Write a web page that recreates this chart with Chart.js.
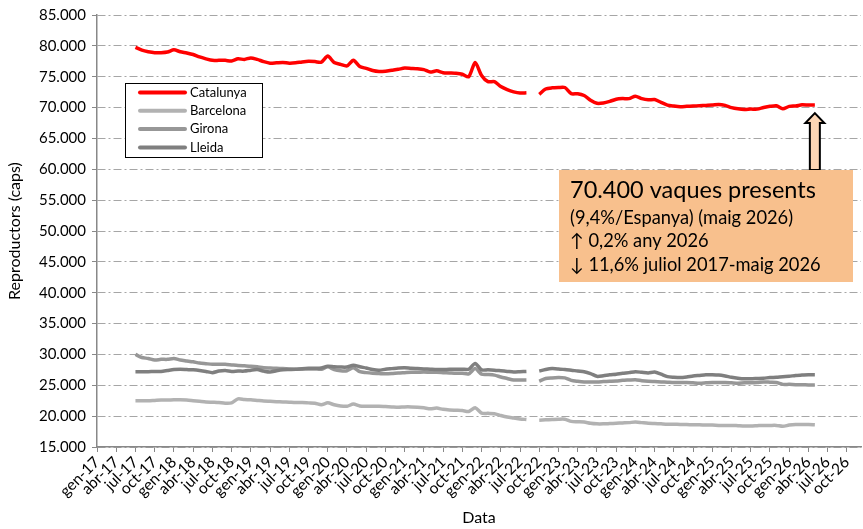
<!DOCTYPE html>
<html>
<head>
<meta charset="utf-8">
<script src="https://cdn.jsdelivr.net/npm/chart.js@4"></script>
<style>
  html, body { margin: 0; padding: 0; background: #fff; }
  #wrap { width: 863px; height: 529px; }
</style>
</head>
<body>
<div id="wrap"><canvas id="vaquesChart"></canvas></div>
<script>
// month index: 0 = gen-17; the series start in jul-17 (index 6), monthly up to maig-26
const firstMonth = 6;
const quarterNames = ["gen", "abr", "jul", "oct"];
const tickYears = ["17", "18", "19", "20", "21", "22", "23", "24", "25", "26"];

const catalunya = [
  79750, 79300, 79050, 78900, 78900, 79000, 79350, 79050, 78850, 78600,
  78200, 77900, 77650, 77650, 77650, 77550, 77900, 77800, 78050, 77800,
  77450, 77200, 77250, 77300, 77200, 77250, 77400, 77500, 77450, 77350,
  78350, 77300, 77000, 76750, 77650, 76650, 76350, 76000, 75850, 75900,
  76050, 76200, 76400, 76350, 76300, 76150, 75750, 75950, 75650, 75600,
  75550, 75400, 75000, 77300, 75200, 74200, 74200, 73400, 72900, 72550,
  72350, 72400, null, 72150, 73000, 73200, 73250, 73250, 72250, 72250,
  71950, 71200, 70700, 70750, 71000, 71350, 71450, 71450, 71850, 71450,
  71250, 71300, 70850, 70400, 70250, 70150, 70200, 70250, 70300, 70350,
  70400, 70500, 70350, 70000, 69800, 69700, 69750, 69750, 70000, 70200,
  70300, 69800, 70200, 70250, 70450, 70400, 70400
];
const barcelona = [
  22500, 22500, 22500, 22550, 22600, 22600, 22650, 22650, 22600, 22500,
  22400, 22300, 22250, 22200, 22100, 22150, 22800, 22700, 22650, 22550,
  22450, 22400, 22350, 22300, 22250, 22200, 22200, 22150, 22100, 21850,
  22150, 21850, 21650, 21600, 21950, 21650, 21600, 21600, 21600, 21550,
  21500, 21450, 21500, 21500, 21450, 21350, 21200, 21300, 21100, 21000,
  20950, 20900, 20750, 21350, 20500, 20450, 20400, 20100, 19850, 19700,
  19550, 19450, null, 19350, 19400, 19450, 19500, 19500, 19150, 19100,
  19050, 18850, 18750, 18750, 18800, 18850, 18900, 18950, 19050, 18950,
  18850, 18800, 18750, 18700, 18700, 18650, 18650, 18600, 18600, 18550,
  18550, 18500, 18500, 18500, 18450, 18400, 18400, 18450, 18500, 18500,
  18500, 18350, 18550, 18650, 18650, 18650, 18600
];
const girona = [
  30000, 29500, 29350, 29100, 29200, 29200, 29350, 29100, 28950, 28800,
  28600, 28500, 28400, 28400, 28400, 28300, 28200, 28150, 28100, 28000,
  27850, 27800, 27750, 27700, 27650, 27600, 27600, 27650, 27650, 27600,
  28000, 27550, 27350, 27350, 27850, 27200, 27050, 26950, 26900, 26850,
  26900, 27000, 27050, 27100, 27100, 27150, 27100, 27100, 27050, 27000,
  26950, 26950, 26850, 27700, 26800, 26750, 26650, 26350, 26100, 25850,
  25850, 25850, null, 25650, 26100, 26200, 26250, 26200, 25800, 25650,
  25550, 25550, 25550, 25600, 25650, 25700, 25800, 25850, 25900, 25750,
  25650, 25600, 25550, 25500, 25450, 25450, 25450, 25400, 25350, 25400,
  25450, 25450, 25450, 25400, 25350, 25400, 25400, 25450, 25550, 25500,
  25450, 25150, 25150, 25100, 25100, 25050, 25050
];
const lleida = [
  27200, 27200, 27200, 27250, 27250, 27400, 27550, 27600, 27550, 27500,
  27400, 27250, 27050, 27300, 27400, 27250, 27300, 27300, 27450, 27550,
  27300, 27150, 27350, 27500, 27550, 27600, 27700, 27750, 27750, 27800,
  28100, 28000, 27950, 27950, 28250, 28000, 27800, 27550, 27450, 27600,
  27700, 27800, 27850, 27750, 27700, 27650, 27600, 27550, 27550, 27600,
  27600, 27600, 27600, 28550, 27500, 27500, 27450, 27350, 27250, 27150,
  27200, 27250, null, 27300, 27550, 27700, 27650, 27550, 27450, 27300,
  27200, 26900, 26450, 26550, 26700, 26800, 26950, 27050, 27200, 27100,
  27000, 27150, 26800, 26400, 26300, 26250, 26350, 26500, 26600, 26700,
  26700, 26650, 26500, 26300, 26150, 26050, 26050, 26100, 26150, 26250,
  26300, 26400, 26450, 26600, 26650, 26700, 26700
];

const noteLines = [
  "70.400 vaques presents",
  "(9,4%/Espanya) (maig 2026)",
  "\u2191 0,2% any 2026",
  "\u2193 11,6% juliol 2017-maig 2026"
];

Chart.defaults.font.family = "Lato, 'Open Sans', sans-serif";
Chart.defaults.color = "#000";

function toPoints(values) {
  return values.map((v, i) => ({ x: firstMonth + i, y: v }));
}

function fmtThousands(v) {
  return String(v).replace(/\B(?=(\d{3})+(?!\d))/g, ".");
}

// legend drawn as a framed box inside the plot, like the original
const boxLegend = {
  id: "boxLegend",
  afterDatasetsDraw(chart) {
    const ctx = chart.ctx;
    const x = 125, y = 83, w = 137, h = 74;
    ctx.save();
    ctx.fillStyle = "#fff";
    ctx.fillRect(x, y, w, h);
    ctx.strokeStyle = "#000";
    ctx.lineWidth = 1;
    ctx.strokeRect(x + 0.5, y + 0.5, w, h);
    ctx.font = "13px Lato";
    ctx.textBaseline = "middle";
    chart.data.datasets.forEach((ds, i) => {
      const rowY = y + 9.5 + i * 18.3;
      ctx.strokeStyle = ds.borderColor;
      ctx.lineWidth = 4;
      ctx.lineCap = "round";
      ctx.beginPath();
      ctx.moveTo(140, rowY);
      ctx.lineTo(185, rowY);
      ctx.stroke();
      ctx.fillStyle = "#000";
      ctx.fillText(ds.label, 190, rowY);
    });
    ctx.restore();
  }
};

// orange note box with the block arrow pointing at the last Catalunya value
const noteBox = {
  id: "noteBox",
  afterDatasetsDraw(chart) {
    const ctx = chart.ctx;
    const xs = chart.scales.x, ys = chart.scales.y;
    const lastIdx = catalunya.length - 1;
    const ax = xs.getPixelForValue(firstMonth + lastIdx);
    const tipY = ys.getPixelForValue(catalunya[lastIdx]) + 8;
    const bx = 559, by = 170, bw = 294, bh = 112;

    ctx.save();
    ctx.beginPath();
    ctx.moveTo(ax, tipY);
    ctx.lineTo(ax + 9.5, tipY + 10);
    ctx.lineTo(ax + 5, tipY + 10);
    ctx.lineTo(ax + 5, by);
    ctx.lineTo(ax - 5, by);
    ctx.lineTo(ax - 5, tipY + 10);
    ctx.lineTo(ax - 9.5, tipY + 10);
    ctx.closePath();
    ctx.fillStyle = "#fcd5b4";
    ctx.fill();
    ctx.strokeStyle = "#000";
    ctx.lineWidth = 2;
    ctx.stroke();

    ctx.fillStyle = "#f8c08d";
    ctx.fillRect(bx, by, bw, bh);

    ctx.fillStyle = "#000";
    ctx.textBaseline = "alphabetic";
    ctx.font = "23.5px Lato";
    ctx.fillText(noteLines[0], bx + 11, by + 28);
    ctx.font = "18.3px Lato";
    ctx.fillText(noteLines[1], bx + 11, by + 54);
    ctx.fillText(noteLines[2], bx + 11, by + 77);
    ctx.fillText(noteLines[3], bx + 11, by + 101);
    ctx.restore();
  }
};

const lineStyle = { borderWidth: 3.5, pointRadius: 0, tension: 0.25, spanGaps: false, fill: false };

new Chart(document.getElementById("vaquesChart"), {
  type: "line",
  data: {
    datasets: [
      { label: "Catalunya", data: toPoints(catalunya), borderColor: "#ff0000", ...lineStyle, order: 0 },
      { label: "Barcelona", data: toPoints(barcelona), borderColor: "#b2b2b2", ...lineStyle, order: 3 },
      { label: "Girona", data: toPoints(girona), borderColor: "#979797", ...lineStyle, order: 2 },
      { label: "Lleida", data: toPoints(lleida), borderColor: "#7f7f7f", ...lineStyle, order: 1 }
    ]
  },
  options: {
    responsive: true,
    maintainAspectRatio: false,
    animation: false,
    layout: { padding: { top: 10, right: 2, left: 0, bottom: 0 } },
    plugins: {
      legend: { display: false },
      tooltip: { enabled: false }
    },
    scales: {
      x: {
        type: "linear",
        min: 0,
        max: 119.2,
        afterFit(scale) { scale.height = 82; },
        border: { display: true, color: "#888", width: 1.5 },
        grid: { drawOnChartArea: false, drawTicks: true, tickLength: 5, color: "#888", tickBorderDash: [] },
        ticks: {
          stepSize: 3,
          autoSkip: false,
          includeBounds: false,
          minRotation: 45,
          maxRotation: 45,
          padding: 1,
          font: { size: 15.5 },
          callback(v) {
            if (v % 3 !== 0) return "";
            return quarterNames[(v / 3) % 4] + "-" + tickYears[Math.floor(v / 12)];
          }
        },
        title: { display: true, text: "Data", font: { size: 16 }, padding: { top: 0, bottom: 2 } }
      },
      y: {
        min: 15000,
        max: 85000,
        afterFit(scale) { scale.width = 97; },
        border: { display: true, color: "#888", width: 1.5, dash: [8, 3, 2, 3] },
        grid: { color: "#a6a6a6", lineWidth: 1, tickLength: 5, tickColor: "#888", tickBorderDash: [] },
        ticks: {
          stepSize: 5000,
          padding: 6,
          font: { size: 15 },
          callback: (v) => fmtThousands(v)
        },
        title: { display: true, text: "Reproductors (caps)", font: { size: 16 }, padding: 5 }
      }
    }
  },
  plugins: [noteBox, boxLegend]
});
</script>
</body>
</html>
